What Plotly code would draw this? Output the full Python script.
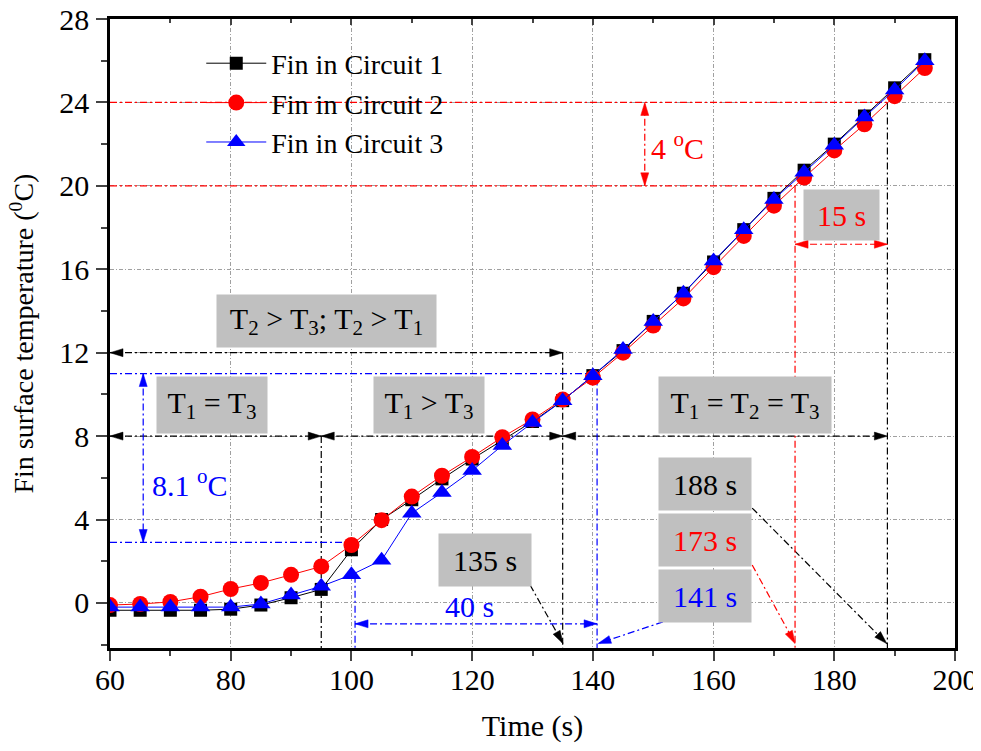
import math
import plotly.graph_objects as go

# ---------------- data ----------------
time_s = [60, 65, 70, 75, 80, 85, 90, 95, 100, 105, 110, 115, 120, 125,
          130, 135, 140, 145, 150, 155, 160, 165, 170, 175, 180, 185, 190, 195]
circuit1 = [-0.35, -0.35, -0.35, -0.35, -0.3, -0.1, 0.25, 0.65, 2.55, 4.0, 4.95, 5.95, 6.9, 7.8,
            8.7, 9.7, 10.9, 12.1, 13.5, 14.85, 16.35, 17.9, 19.4, 20.75, 22.0, 23.35, 24.7, 26.05]
circuit2 = [-0.1, -0.05, 0.05, 0.3, 0.67, 0.96, 1.35, 1.75, 2.78, 3.97, 5.1, 6.1, 7.0, 7.95,
            8.8, 9.75, 10.8, 12.0, 13.3, 14.6, 16.1, 17.6, 19.05, 20.4, 21.7, 22.95, 24.3, 25.65]
circuit3 = [-0.2, -0.2, -0.2, -0.2, -0.2, -0.05, 0.38, 0.8, 1.35, 2.05, 4.3, 5.3, 6.35, 7.55,
            8.65, 9.7, 10.9, 12.15, 13.5, 14.85, 16.4, 17.9, 19.35, 20.65, 21.95, 23.3, 24.6, 26.0]
series_names = ["Fin in Circuit 1", "Fin in Circuit 2", "Fin in Circuit 3"]
x_ticks = [60, 80, 100, 120, 140, 160, 180, 200]
y_ticks = [0, 4, 8, 12, 16, 20, 24, 28]

X_RANGE = [60, 200]
Y_RANGE = [-2.16, 28]
FONT = "Liberation Serif, Times New Roman, serif"
FS = 30

# layout geometry (page has an 8px body margin; keep the page from overflowing)
ML, MR, MT, MB = 102, 18, 11, 95
W, H = 965, 735
SX = (W - ML - MR) / (X_RANGE[1] - X_RANGE[0])
SY = (H - MT - MB) / (Y_RANGE[1] - Y_RANGE[0])
YMIN = Y_RANGE[0]

fig = go.Figure()
styles = [("black", "square", 13), ("red", "circle", 16), ("blue", "triangle-up", 17)]
for name, ys, (col, sym, sz) in zip(series_names, [circuit1, circuit2, circuit3], styles):
    fig.add_trace(go.Scatter(
        x=time_s, y=ys, mode="lines+markers", name=name,
        line=dict(color=col, width=1),
        marker=dict(symbol=sym, size=sz, color=col, line=dict(width=0)),
    ))
# dummy trace for the top axis (inward ticks)
fig.add_trace(go.Scatter(x=[None], y=[None], xaxis="x2", showlegend=False, hoverinfo="skip"))

DASH = "7px,3px,2px,3px"
shapes = []


def seg(col, x0, y0, x1, y1):
    shapes.append(dict(type="line", xref="x", yref="y", x0=x0, y0=y0, x1=x1, y1=y1,
                       line=dict(color=col, width=1.2, dash=DASH), layer="between"))


def head(col, x, y, ang, L=13, Wd=8):
    a = math.radians(ang)
    dx, dy = math.cos(a), math.sin(a)
    nx, ny = -dy, dx
    p1 = (-L * dx + Wd / 2 * nx, -L * dy + Wd / 2 * ny)
    p2 = (-L * dx - Wd / 2 * nx, -L * dy - Wd / 2 * ny)
    path = "M0,0L%.2f,%.2fL%.2f,%.2fZ" % (p1[0], p1[1], p2[0], p2[1])
    shapes.append(dict(type="path", xref="x", yref="y", xsizemode="pixel", ysizemode="pixel",
                       xanchor=x, yanchor=y, path=path, fillcolor=col,
                       line=dict(color=col, width=0.5), layer="above"))


def diag(col, x0, y0, x1, y1):
    seg(col, x0, y0, x1, y1)
    ang = math.degrees(math.atan2((y1 - y0) * SY, (x1 - x0) * SX))
    head(col, x1, y1, ang)


# black guides
seg("black", 60, 12, 135, 12); head("black", 60, 12, 180); head("black", 135, 12, 0)
seg("black", 60, 8, 95, 8); head("black", 60, 8, 180); head("black", 95, 8, 0)
seg("black", 95, 8, 135, 8); head("black", 95, 8, 180); head("black", 135, 8, 0)
seg("black", 135, 8, 188.8, 8); head("black", 135, 8, 180); head("black", 188.8, 8, 0)
seg("black", 95, 8, 95, YMIN)
seg("black", 135, 12, 135, YMIN)
seg("black", 188.8, 24, 188.8, YMIN)
diag("black", 129.6, 0.86, 135.05, -1.95)
diag("black", 166.4, 4.55, 188.7, -1.95)

# red guides
seg("red", 60, 24, 188.8, 24)
seg("red", 60, 20, 173.5, 20)
seg("red", 148.6, 20, 148.6, 24); head("red", 148.6, 24, 90); head("red", 148.6, 20, 270)
seg("red", 173.5, 20, 173.5, YMIN)
seg("red", 173.5, 17.2, 188.8, 17.2); head("red", 173.5, 17.2, 180); head("red", 188.8, 17.2, 0)
diag("red", 166.4, 1.82, 173.5, -1.95)

# blue guides
seg("blue", 60, 11, 140.7, 11)
seg("blue", 60, 2.9, 100, 2.9)
seg("blue", 65.5, 11, 65.5, 2.9); head("blue", 65.5, 11, 90); head("blue", 65.5, 2.9, 270)
seg("blue", 140.7, 11, 140.7, YMIN)
seg("blue", 100.6, 1.3, 100.6, YMIN)
seg("blue", 100.6, -1.0, 140.7, -1.0); head("blue", 100.6, -1.0, 180); head("blue", 140.7, -1.0, 0)
diag("blue", 151.6, -0.91, 140.85, -1.95)

annotations = []


def box(text, x, y, w, h, col="black", fs=FS):
    annotations.append(dict(text=text, x=x, y=y, xref="x", yref="y", showarrow=False,
                            width=w, height=h, bgcolor="#c0c0c0",
                            font=dict(family=FONT, size=fs, color=col),
                            align="center", valign="middle"))


def label(text, x, y, col, fs=FS):
    annotations.append(dict(text=text, x=x, y=y, xref="x", yref="y", showarrow=False,
                            font=dict(family=FONT, size=fs, color=col)))


box("T<sub>2</sub> &gt; T<sub>3</sub>; T<sub>2</sub> &gt; T<sub>1</sub>", 95.9, 13.5, 217, 50)
box("T<sub>1</sub> = T<sub>3</sub>", 76.9, 9.5, 108, 54)
box("T<sub>1</sub> &gt; T<sub>3</sub>", 112.9, 9.5, 108, 54)
box("T<sub>1</sub> = T<sub>2</sub> = T<sub>3</sub>", 165.2, 9.5, 170, 54)
box("135 s", 122.1, 2.06, 90, 50)
box("188 s", 158.6, 5.69, 90, 50)
box("173 s", 158.6, 3.01, 90, 50, col="red")
box("141 s", 158.6, 0.33, 90, 50, col="blue")
box("15 s", 181.2, 18.6, 73, 48, col="red")
label("4 <sup>o</sup>C", 154.0, 21.9, "red")
label("8.1 <sup>o</sup>C", 73.2, 5.75, "blue")
label("40 s", 119.6, -0.15, "blue")

# y-axis title as a rotated annotation (allows it to sit closer to the page edge)
annotations.append(dict(text="Fin surface temperature (<sup>0</sup>C)", textangle=-90,
                        xref="paper", yref="paper", x=-0.104, y=0.5,
                        xanchor="center", yanchor="middle", showarrow=False,
                        font=dict(family=FONT, size=28, color="black")))

fig.update_layout(
    width=W, height=H,
    margin=dict(l=ML, r=MR, t=MT, b=MB, autoexpand=False),
    paper_bgcolor="white", plot_bgcolor="white",
    font=dict(family=FONT, size=FS, color="black"),
    shapes=shapes, annotations=annotations,
    showlegend=True,
    legend=dict(x=0.108, y=0.969, xanchor="left", yanchor="top",
                bgcolor="rgba(0,0,0,0)", font=dict(family=FONT, size=28),
                itemwidth=60, tracegroupgap=0),
    xaxis=dict(range=X_RANGE, tickvals=x_ticks, ticks="outside", ticklen=10, tickwidth=2,
               showline=True, linewidth=2.5, linecolor="black", mirror=True,
               showgrid=True, gridcolor="#a0a0a0", gridwidth=1, griddash="4px,2px,1px,2px",
               minor=dict(dtick=10, ticks="outside", ticklen=5, tickwidth=2, showgrid=False),
               zeroline=False, ticklabelstandoff=-7, automargin=False,
               ticklabeloverflow="allow",
               tickfont=dict(family=FONT, size=FS),
               title=dict(text="Time (s)", font=dict(family=FONT, size=FS), standoff=23)),
    xaxis2=dict(range=X_RANGE, overlaying="x", side="top", anchor="y", tickvals=x_ticks,
                ticks="inside", ticklen=6, tickwidth=2, showticklabels=False, showgrid=False,
                showline=False, zeroline=False, automargin=False,
                minor=dict(dtick=10, ticks="inside", ticklen=4, tickwidth=2, showgrid=False)),
    yaxis=dict(range=Y_RANGE, tickvals=y_ticks, ticks="outside", ticklen=11, tickwidth=2,
               showline=True, linewidth=2.5, linecolor="black", mirror=True,
               showgrid=True, gridcolor="#a0a0a0", gridwidth=1, griddash="4px,2px,1px,2px",
               minor=dict(dtick=2, ticks="outside", ticklen=6, tickwidth=2, showgrid=False),
               zeroline=False, ticklabelstandoff=1, automargin=False,
               ticklabeloverflow="allow",
               tickfont=dict(family=FONT, size=FS)),
)

fig.write_html("out.html")
